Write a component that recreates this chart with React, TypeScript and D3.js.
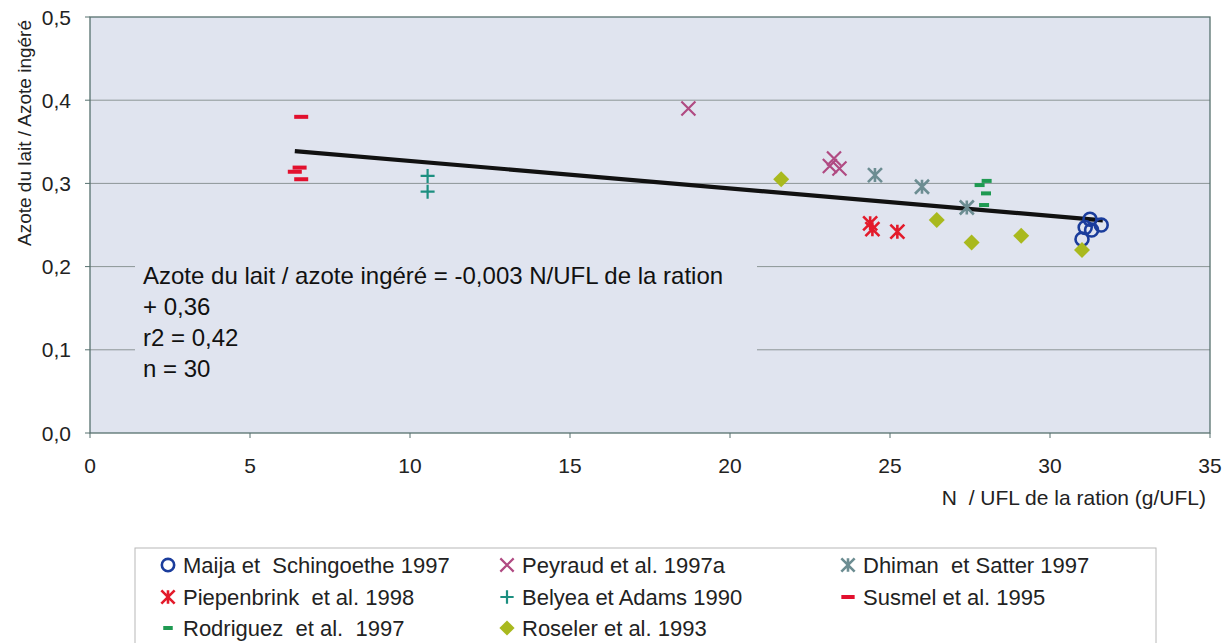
import React from 'react';
import * as d3 from 'd3';

// N/UFL de la ration (g/UFL) vs azote du lait / azote ingéré
const maija = [[31.0, 0.233], [31.1, 0.247], [31.25, 0.257], [31.3, 0.244], [31.6, 0.25]];
const peyraud = [[18.7, 0.39], [23.12, 0.321], [23.25, 0.33], [23.42, 0.318]];
const dhiman = [[24.53, 0.31], [26.0, 0.296], [27.4, 0.271]];
const piepenbrink = [[24.38, 0.252], [24.45, 0.245], [25.23, 0.242]];
const belyea = [[10.55, 0.309], [10.55, 0.29]];
const susmel = [[6.6, 0.38], [6.55, 0.319], [6.4, 0.314], [6.6, 0.305]];
const rodriguez = [[27.8, 0.298], [28.02, 0.303], [28.0, 0.288], [27.94, 0.274]];
const roseler = [[21.6, 0.305], [26.46, 0.256], [27.55, 0.229], [29.1, 0.237], [31.0, 0.22]];

const xTicks = [0, 5, 10, 15, 20, 25, 30, 35];
const yTicks = [0, 0.1, 0.2, 0.3, 0.4, 0.5];

// regression drawn in the figure
const trendSlope = -0.0033;
const trendIntercept = 0.36;
const trendRange = [6.4, 31.65];

const equationLines = [
  'Azote du lait / azote ingéré = -0,003 N/UFL de la ration',
  '+ 0,36',
  'r2 = 0,42',
  'n = 30',
];

const series = [
  { name: 'Maija et  Schingoethe 1997', data: maija, shape: 'circle', color: '#1b3d9c' },
  { name: 'Peyraud et al. 1997a', data: peyraud, shape: 'x', color: '#b04a82' },
  { name: 'Dhiman  et Satter 1997', data: dhiman, shape: 'star', color: '#6c8d92' },
  { name: 'Piepenbrink  et al. 1998', data: piepenbrink, shape: 'star', color: '#e31b2b' },
  { name: 'Belyea et Adams 1990', data: belyea, shape: 'plus', color: '#1c8f80' },
  { name: 'Susmel et al. 1995', data: susmel, shape: 'dash', color: '#e2102e' },
  { name: 'Rodriguez  et al.  1997', data: rodriguez, shape: 'smalldash', color: '#1f9a52' },
  { name: 'Roseler et al. 1993', data: roseler, shape: 'diamond', color: '#a9b91e' },
];

const W = 1230;
const H = 643;
const M = { left: 90, top: 17, right: 1210, bottom: 433 };
const FONT = '"Liberation Sans", Arial, sans-serif';
const BG = '#e0e4ef';

const fmt = (v: number) => v.toFixed(1).replace('.', ',');

function Marker({ shape, color, x, y, s = 1 }: any) {
  const k = 7 * s;
  switch (shape) {
    case 'circle':
      return <circle cx={x} cy={y} r={6.5 * s} fill="none" stroke={color} strokeWidth={2.6} />;
    case 'x':
      return (
        <path
          d={`M${x - k},${y - k}L${x + k},${y + k}M${x - k},${y + k}L${x + k},${y - k}`}
          stroke={color}
          strokeWidth={2.2}
        />
      );
    case 'star':
      return (
        <path
          d={`M${x - k},${y - k}L${x + k},${y + k}M${x - k},${y + k}L${x + k},${y - k}M${x},${y - k}L${x},${y + k}`}
          stroke={color}
          strokeWidth={2.6}
        />
      );
    case 'plus':
      return (
        <path d={`M${x - k},${y}L${x + k},${y}M${x},${y - k}L${x},${y + k}`} stroke={color} strokeWidth={2.2} />
      );
    case 'dash':
      return <rect x={x - 7 * s} y={y - 2} width={14 * s} height={4} fill={color} />;
    case 'smalldash':
      return <rect x={x - 5 * s} y={y - 2} width={10 * s} height={4} fill={color} />;
    case 'diamond': {
      const r = 8 * s;
      return <path d={`M${x},${y - r}L${x + r},${y}L${x},${y + r}L${x - r},${y}Z`} fill={color} />;
    }
    default:
      return null;
  }
}

export default function App() {
  const x = d3.scaleLinear().domain([0, 35]).range([M.left, M.right]);
  const y = d3.scaleLinear().domain([0, 0.5]).range([M.bottom, M.top]);

  const trend = d3
    .line<number>()
    .x((d) => x(d))
    .y((d) => y(trendIntercept + trendSlope * d))(trendRange);

  const legendRows = [565, 597, 628];
  const legendCols = [168, 507, 848];

  return (
    <div style={{ position: 'absolute', left: 0, top: 0 }}>
      <svg width={W} height={H} style={{ display: 'block', background: '#fff' }} fontFamily={FONT}>
        <rect x={M.left} y={M.top} width={M.right - M.left} height={M.bottom - M.top} fill={BG} />
        {yTicks.slice(1, -1).map((t) => (
          <line key={t} x1={M.left} x2={M.right} y1={y(t)} y2={y(t)} stroke="#8c9596" strokeWidth={1} />
        ))}
        {/* equation box hides the grid behind it */}
        <rect x={135} y={252} width={622} height={140} fill={BG} />
        {equationLines.map((l, i) => (
          <text key={i} x={143} y={275 + i * 31} fontSize={24} dominantBaseline="central" fill="#111">
            {l}
          </text>
        ))}
        <rect
          x={M.left}
          y={M.top}
          width={M.right - M.left}
          height={M.bottom - M.top}
          fill="none"
          stroke="#56706e"
          strokeWidth={1.3}
        />
        {xTicks.map((t) => (
          <g key={t}>
            <line x1={x(t)} x2={x(t)} y1={M.bottom} y2={M.bottom + 5} stroke="#56706e" />
            <text x={x(t)} y={465} fontSize={21} textAnchor="middle" dominantBaseline="central" fill="#222">
              {t}
            </text>
          </g>
        ))}
        {yTicks.map((t) => (
          <g key={t}>
            <line x1={M.left - 5} x2={M.left} y1={y(t)} y2={y(t)} stroke="#56706e" />
            <text x={71} y={y(t)} fontSize={21} textAnchor="end" dominantBaseline="central" fill="#222">
              {fmt(t)}
            </text>
          </g>
        ))}
        <text
          transform="translate(24,133) rotate(-90)"
          fontSize={19}
          textAnchor="middle"
          dominantBaseline="central"
          fill="#222"
        >
          Azote du lait / Azote ingéré
        </text>
        <text x={1206} y={497} fontSize={21} textAnchor="end" dominantBaseline="central" fill="#222" xmlSpace="preserve">
          {'N  / UFL de la ration (g/UFL)'}
        </text>

        <path d={trend as string} stroke="#111" strokeWidth={4.2} fill="none" />

        {series.map((s) =>
          s.data.map((d, i) => <Marker key={s.name + i} shape={s.shape} color={s.color} x={x(d[0])} y={y(d[1])} />)
        )}

        <rect x={135} y={548} width={1021} height={120} fill="#fff" stroke="#b8b8b8" strokeWidth={1} />
        {series.map((s, i) => {
          const cx = legendCols[i % 3];
          const cy = legendRows[Math.floor(i / 3)];
          return (
            <g key={s.name}>
              <Marker shape={s.shape} color={s.color} x={cx} y={cy} s={0.95} />
              <text
                x={cx + 15}
                y={cy}
                fontSize={22}
                dominantBaseline="central"
                fill="#222"
                xmlSpace="preserve"
              >
                {s.name}
              </text>
            </g>
          );
        })}
      </svg>
    </div>
  );
}
